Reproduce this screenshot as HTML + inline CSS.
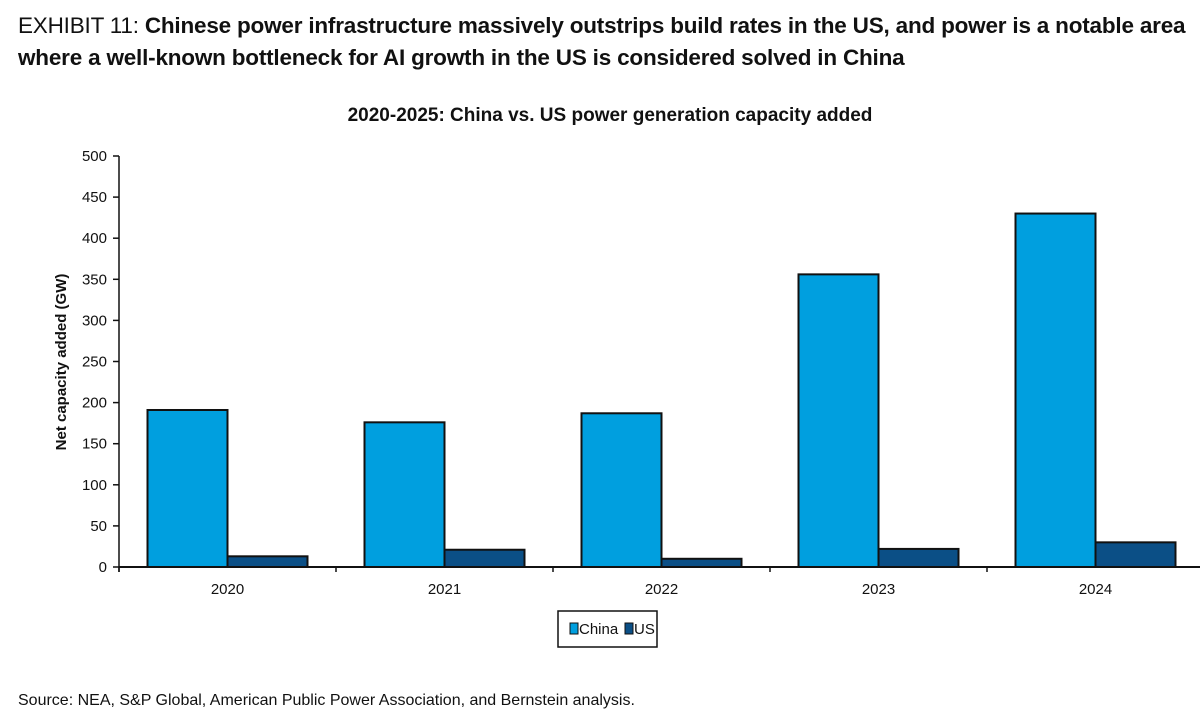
<!DOCTYPE html>
<html><head><meta charset="utf-8"><style>
body{margin:0;width:1200px;height:725px;background:#fff;font-family:"Liberation Sans",Arial,sans-serif;overflow:hidden;position:relative}
#hdr{position:absolute;left:18px;top:10px;font-size:22.5px;line-height:32px;color:#111;letter-spacing:-0.2px}
#hdr .lt{font-weight:normal}
#src{position:absolute;left:18px;top:692px;font-size:16px;color:#111}
svg{position:absolute;left:0;top:0}
</style></head><body>
<div id="hdr"><span class="lt">EXHIBIT 11: </span><b>Chinese power infrastructure massively outstrips build rates in the US, and power is a notable area where a well-known bottleneck for AI growth in the US is considered solved in China</b></div>
<svg id="chart" width="1200" height="725"></svg>
<div id="src">Source: NEA, S&amp;P Global, American Public Power Association, and Bernstein analysis.</div>
<script>
const categories=["2020","2021","2022","2023","2024"];
const chinaValues=[191,176,187,356,430];
const usValues=[13,21,10,22,30];
const yTicks=[0,50,100,150,200,250,300,350,400,450,500];
const ns="http://www.w3.org/2000/svg";
const svg=document.getElementById('chart');
const x0=119,bandW=217,y0=567,yMax=500,plotH=411;
const y=v=>y0-v/yMax*plotH;
const bx=i=>x0+i*bandW;
function mk(tag,attrs,parent){const e=document.createElementNS(ns,tag);for(const k in attrs)e.setAttribute(k,attrs[k]);(parent||svg).appendChild(e);return e;}
const t=mk('text',{x:610,y:121,'text-anchor':'middle','font-size':19,'font-weight':'bold',fill:'#111'});t.textContent='2020-2025: China vs. US power generation capacity added';


const yl=mk('text',{transform:'translate(66,362) rotate(-90)','text-anchor':'middle','font-size':15,'font-weight':'bold',fill:'#111'});yl.textContent='Net capacity added (GW)';


yTicks.forEach(v=>{
  mk('line',{x1:x0-6,x2:x0,y1:y(v),y2:y(v),stroke:'#111','stroke-width':1.5});
  const l=mk('text',{x:x0-12,y:y(v)+5,'text-anchor':'end','font-size':15,fill:'#111'});l.textContent=v;
  
  
});
categories.forEach((c,i)=>{
  const cx=bx(i)+bandW/2,w=80;
  const b1=mk('rect',{x:cx-w,y:y(chinaValues[i]),width:w,height:y0-y(chinaValues[i]),fill:'#009fdf',stroke:'#111','stroke-width':2});
  
  
  const b2=mk('rect',{x:cx,y:y(usValues[i]),width:w,height:y0-y(usValues[i]),fill:'#0b4f86',stroke:'#111','stroke-width':2});
  
  
  const l=mk('text',{x:cx,y:594,'text-anchor':'middle','font-size':15,fill:'#111'});l.textContent=c;
  
  
  mk('line',{x1:bx(i),x2:bx(i),y1:y0,y2:y0+5,stroke:'#111','stroke-width':1.5});
});
mk('line',{x1:x0,x2:x0,y1:y(500),y2:y0+5,stroke:'#111','stroke-width':1.5});
mk('line',{x1:x0,x2:1200,y1:y0,y2:y0,stroke:'#111','stroke-width':2});
const lg=mk('g',{});


mk('rect',{x:558,y:611,width:99,height:36,fill:'#fff',stroke:'#111','stroke-width':1.5},lg);
mk('rect',{x:570,y:623,width:8,height:11,fill:'#009fdf',stroke:'#111','stroke-width':1},lg);
const l1=mk('text',{x:579,y:634,'font-size':15,fill:'#111'},lg);l1.textContent='China';
mk('rect',{x:625,y:623,width:8,height:11,fill:'#0b4f86',stroke:'#111','stroke-width':1},lg);
const l2=mk('text',{x:634,y:634,'font-size':15,fill:'#111'},lg);l2.textContent='US';
</script>
</body></html>
